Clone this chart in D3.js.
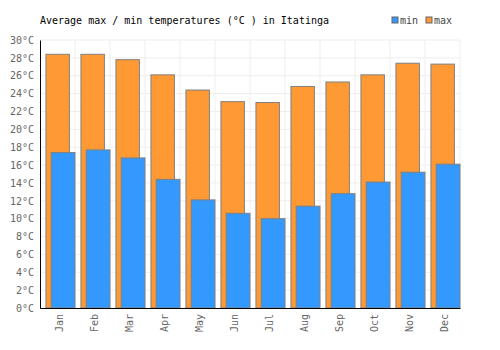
<!DOCTYPE html>
<html lang="en">
<head>
    <meta charset="UTF-8">
    <title>Average max / min temperatures in Itatinga</title>
    <script src="https://d3js.org/d3.v7.min.js"></script>
    <style>
        body { margin: 0; padding: 0; background: #fff; }
        svg text { font-family: "DejaVu Sans Mono", monospace; }
    </style>
</head>
<body>
    <svg id="chart" width="500" height="350"></svg>
    <script>
        // Data
        const months = ["Jan", "Feb", "Mar", "Apr", "May", "Jun", "Jul", "Aug", "Sep", "Oct", "Nov", "Dec"];
        const maxTemps = [28.4, 28.4, 27.8, 26.1, 24.4, 23.1, 23.0, 24.8, 25.3, 26.1, 27.4, 27.3];
        const minTemps = [17.4, 17.7, 16.8, 14.4, 12.1, 10.6, 10.0, 11.4, 12.8, 14.1, 15.2, 16.1];
        const yTicks = d3.range(0, 31, 2);

        const width = 500, height = 350;
        const margin = { top: 40, right: 40, bottom: 42, left: 40 };
        const svg = d3.select("#chart");

        const x = d3.scaleBand()
            .domain(months)
            .range([margin.left, width - margin.right]);

        const y = d3.scaleLinear()
            .domain([0, 30])
            .range([height - margin.bottom, margin.top]);

        // grid
        svg.append("g")
            .selectAll("line")
            .data(yTicks)
            .join("line")
            .attr("x1", margin.left)
            .attr("x2", width - margin.right)
            .attr("y1", d => y(d))
            .attr("y2", d => y(d))
            .attr("stroke", "#eeeeee");

        svg.append("g")
            .selectAll("line")
            .data(months)
            .join("line")
            .attr("x1", d => x(d) + x.bandwidth())
            .attr("x2", d => x(d) + x.bandwidth())
            .attr("y1", margin.top)
            .attr("y2", height - margin.bottom)
            .attr("stroke", "#eeeeee");

        const bw = x.bandwidth();

        // max bars (behind)
        svg.append("g")
            .selectAll("rect")
            .data(months)
            .join("rect")
            .attr("x", (d, i) => x(d) + bw * 0.17)
            .attr("width", bw * 0.67)
            .attr("y", (d, i) => y(maxTemps[i]))
            .attr("height", (d, i) => y(0) - y(maxTemps[i]))
            .attr("fill", "#ff9933")
            .attr("stroke", "#808080")
            .attr("stroke-width", 1);

        // min bars (front)
        svg.append("g")
            .selectAll("rect")
            .data(months)
            .join("rect")
            .attr("x", (d, i) => x(d) + bw * 0.32)
            .attr("width", bw * 0.68)
            .attr("y", (d, i) => y(minTemps[i]))
            .attr("height", (d, i) => y(0) - y(minTemps[i]))
            .attr("fill", "#3399ff")
            .attr("stroke", "#808080")
            .attr("stroke-width", 1);

        // y axis
        const yAxis = svg.append("g")
            .attr("transform", `translate(${margin.left},0)`)
            .call(d3.axisLeft(y).tickValues(yTicks).tickSize(0).tickPadding(6).tickFormat(d => d + "°C"));
        yAxis.select(".domain").attr("stroke", "#000");
        yAxis.selectAll("text")
            .attr("fill", "#666")
            .style("font-size", "10px");

        // x axis
        const xAxis = svg.append("g")
            .attr("transform", `translate(0,${height - margin.bottom})`)
            .call(d3.axisBottom(x).tickSize(0));
        xAxis.select(".domain").attr("stroke", "#000");
        xAxis.selectAll("text")
            .attr("transform", "rotate(-90)")
            .attr("text-anchor", "end")
            .attr("x", -6)
            .attr("y", 2)
            .attr("dy", "0.35em")
            .attr("fill", "#666")
            .style("font-size", "10px");

        // title
        svg.append("text")
            .attr("x", margin.left)
            .attr("y", 24)
            .attr("fill", "#000")
            .style("font-size", "10px")
            .text("Average max / min temperatures (°C ) in Itatinga");

        // legend
        const legend = [
            { name: "min", color: "#3399ff", x: 392 },
            { name: "max", color: "#ff9933", x: 426 }
        ];
        const lg = svg.append("g")
            .selectAll("g")
            .data(legend)
            .join("g")
            .attr("transform", d => `translate(${d.x},17)`);
        lg.append("rect")
            .attr("width", 6)
            .attr("height", 6)
            .attr("fill", d => d.color)
            .attr("stroke", "#666");
        lg.append("text")
            .attr("x", 8)
            .attr("y", 7)
            .attr("fill", "#444")
            .style("font-size", "10px")
            .text(d => d.name);
    </script>
</body>
</html>
